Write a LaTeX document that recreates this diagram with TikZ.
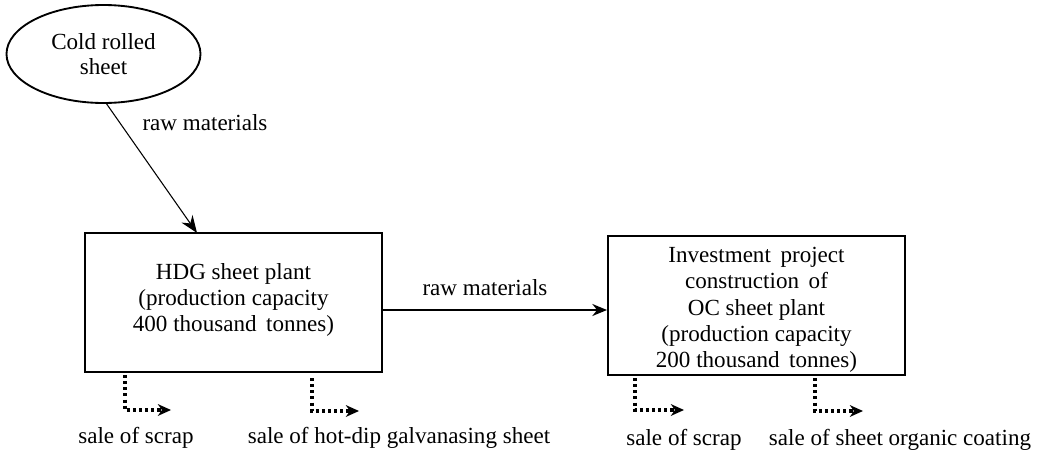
\documentclass[tikz,border=0pt]{standalone}
\usepackage{fontspec}
\newfontfamily\tnr{Liberation Serif}
\usetikzlibrary{arrows.meta,shapes.geometric,calc}
\begin{document}
\begin{tikzpicture}[x=0.75pt,y=-0.75pt,
  every node/.style={font=\tnr\fontsize{17.3}{19.7}\selectfont},
  plantbox/.style={draw,line width=1.5pt,minimum width=222.75pt,minimum height=104.25pt,inner sep=0pt},
  srcell/.style={draw,ellipse,line width=1.4pt,minimum width=145.5pt,minimum height=73.5pt,inner sep=0pt},
  dotarrow/.style={line width=2.3pt,dash pattern=on 2.3pt off 2.3pt,-{Stealth[length=10pt,width=9pt,line width=0pt]}},
  thinarrow/.style={line width=0.8pt,-{Stealth[length=13pt,width=10pt]}},
  mainarrow/.style={line width=1.5pt,-{Stealth[length=11pt,width=9pt]}},
  lbl/.style={inner sep=0pt}
]
\useasboundingbox (0,0) rectangle (1039,454);
\node[srcell,align=center] (e) at (103.5,54) {Cold rolled\\[-1pt]sheet};
\node[plantbox] (b1) at (233.5,302.5) {};
\node[align=center,lbl] (t1) at (233.5,300) {HDG sheet plant\\(production capacity\\400 thousand\, tonnes)};
\node[plantbox] (b2) at (756.5,305.5) {};
\node[align=center,lbl] (t2) at (756.5,310) {Investment\, project\\construction\, of\\OC sheet plant\\(production capacity\\200 thousand\, tonnes)};
\coordinate (a1) at (197,233);
\draw[thinarrow] (106,103) -- (a1);
\node[lbl] (r1) at (205,123) {raw materials};
\coordinate (h) at (495,310);
\draw[mainarrow] (b1.east |- h) -- (b2.west |- h);
\node[lbl] (r2) at (485,288) {raw materials};
% dotted outputs
\coordinate (p1) at (125,375); \coordinate (q1) at (171,410);
\coordinate (p2) at (312,378); \coordinate (q2) at (359,411);
\coordinate (p3) at (635,378); \coordinate (q3) at (684,410);
\coordinate (p4) at (815,378); \coordinate (q4) at (863,411);
\draw[dotarrow] (p1) |- (q1);
\draw[dotarrow] (p2) |- (q2);
\draw[dotarrow] (p3) |- (q3);
\draw[dotarrow] (p4) |- (q4);
\node[lbl] (l1) at (136,438) {sale of scrap};
\node[lbl] (l2) at (399,438) {sale of hot-dip galvanasing sheet};
\node[lbl] (l3) at (684,440) {sale of scrap};
\node[lbl] (l4) at (900,440) {sale of sheet organic coating};
\end{tikzpicture}
\end{document}
